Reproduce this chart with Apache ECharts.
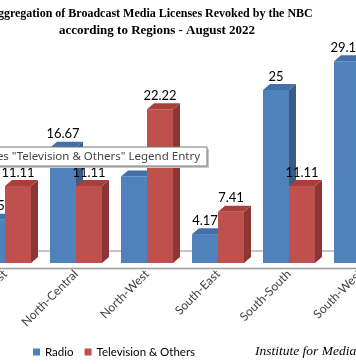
<!DOCTYPE html>
<html><head><meta charset="utf-8">
<script src="https://cdn.jsdelivr.net/npm/echarts@6/dist/echarts.min.js"></script>
<style>html,body{margin:0;padding:0;background:#fff;}#c{width:356px;height:364px;}</style>
</head><body><div id="c"></div>
<script>
var categories = ["North-East", "North-Central", "North-West", "South-East", "South-South", "South-West"];
var radio = [6.25, 16.67, 12.5, 4.17, 25, 29.16];
var television = [11.11, 11.11, 22.22, 7.41, 11.11, 37.04];
var seriesNames = ["Radio", "Television & Others"];

var BW = 26, DX = 7, DY = 6;
function make3D(side, front, topC, sideC) {
  return function (params, api) {
    var idx = api.value(0), v = api.value(1);
    var t = api.coord([idx, v]);
    var b = api.coord([idx, 0]);
    var x0 = side < 0 ? t[0] - BW : t[0];
    var x1 = x0 + BW;
    var yt = t[1], yb = b[1];
    return {
      type: 'group',
      children: [
        {type: 'rect', shape: {x: x0, y: yt, width: BW, height: yb - yt}, style: {fill: front}},
        {type: 'polygon', shape: {points: [[x1, yt], [x1 + DX, yt - DY], [x1 + DX, yb - DY], [x1, yb]]}, style: {fill: sideC}},
        {type: 'polygon', shape: {points: [[x0, yt], [x0 + DX, yt - DY], [x1 + DX, yt - DY], [x1, yt]]}, style: {fill: topC}},
        {type: 'text', style: {text: String(v), x: (x0 + x1) / 2, y: yt - DY - 1, textAlign: 'center', textVerticalAlign: 'bottom', font: '13px Lato', fill: '#000'}}
      ]
    };
  };
}

var chart = echarts.init(document.getElementById('c'));
chart.setOption({
  animation: false,
  grid: {left: -30.5, right: -39.5, top: 20.8, bottom: 101, containLabel: false, outerBoundsMode: 'none'},
  xAxis: {
    type: 'category', data: categories,
    axisLine: {show: false}, axisTick: {show: false},
    axisLabel: {rotate: 45, margin: 9, color: '#404040', fontFamily: 'Lato', fontSize: 12, interval: 0}
  },
  yAxis: {type: 'value', min: 0, max: 35, show: false, splitLine: {show: false}},
  legend: {
    data: seriesNames, left: 28, top: 341, icon: 'rect', itemWidth: 7, itemHeight: 7, itemGap: 11,
    textStyle: {fontFamily: 'Lato', fontSize: 11.5, color: '#000'}
  },
  graphic: [
    {type: 'line', shape: {x1: 0, y1: 251, x2: 356, y2: 251}, style: {stroke: '#8a8a8a', lineWidth: 1}, z: -1},
    {type: 'line', shape: {x1: 0, y1: 268.5, x2: 356, y2: 268.5}, style: {stroke: '#9a9a9a', lineWidth: 1.5}, z: -1},
    {type: 'text', style: {text: 'Aggregation of Broadcast Media Licenses Revoked by the NBC', x: 151, y: 14, textAlign: 'center', textVerticalAlign: 'middle', font: 'bold 12px "Liberation Serif"', fill: '#000'}},
    {type: 'text', style: {text: 'according to Regions - August 2022', x: 157, y: 31, textAlign: 'center', textVerticalAlign: 'middle', font: 'bold 13px "Liberation Serif"', fill: '#000'}},
    {type: 'text', style: {text: 'Institute for Media and Society', x: 255, y: 351, textAlign: 'left', textVerticalAlign: 'middle', font: 'italic 13.5px "Liberation Serif"', fill: '#000'}},
    {type: 'rect', z: 100, zlevel: 1, shape: {x: -80, y: 149, width: 289, height: 19}, style: {fill: '#c8c8c8'}},
    {type: 'rect', z: 101, zlevel: 1, shape: {x: -82, y: 147, width: 289, height: 19}, style: {fill: '#fff', stroke: '#767676', lineWidth: 1}},
    {type: 'text', z: 102, zlevel: 1, style: {text: 'Series "Television & Others" Legend Entry', x: 200, y: 157, textAlign: 'right', textVerticalAlign: 'middle', font: '11.5px "Noto Sans"', fill: '#444'}}
  ],
  series: [
    {name: seriesNames[0], type: 'custom', itemStyle: {color: '#4F81BD'}, renderItem: make3D(-1, '#4F81BD', '#4370A6', '#375C89'),
      data: radio.map(function (v, i) { return [i, v]; }), encode: {x: 0, y: 1}},
    {name: seriesNames[1], type: 'custom', itemStyle: {color: '#C0504D'}, renderItem: make3D(1, '#C0504D', '#A7403D', '#8B3634'),
      data: television.map(function (v, i) { return [i, v]; }), encode: {x: 0, y: 1}}
  ]
});
</script></body></html>
